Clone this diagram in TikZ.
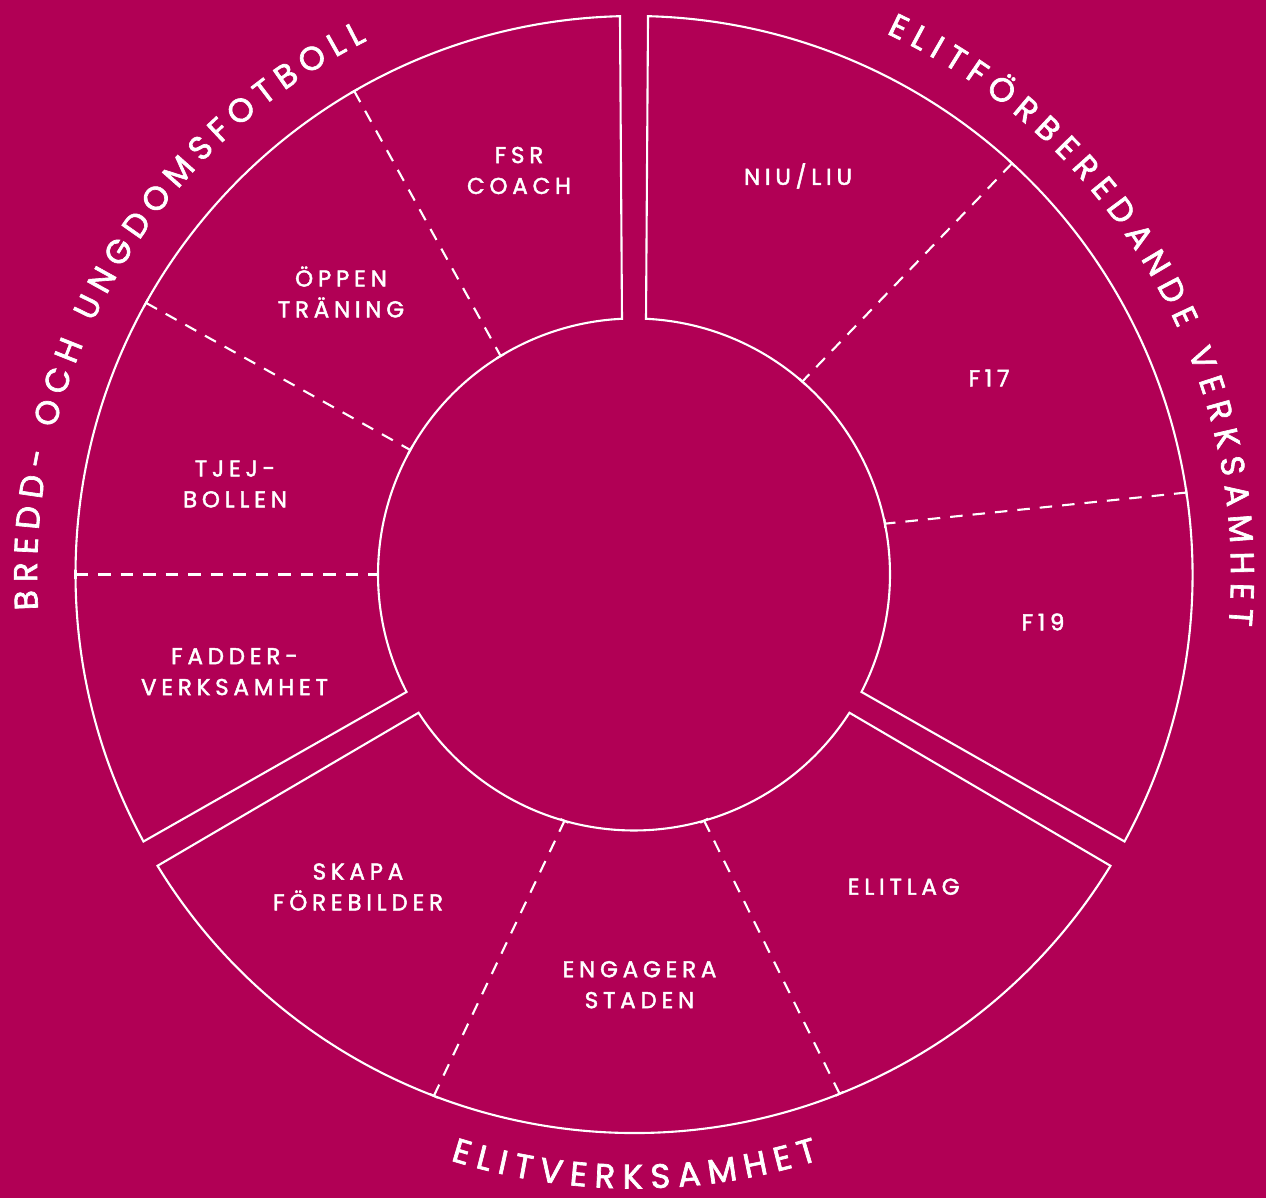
\documentclass[tikz,border=0pt]{standalone}
\usepackage{fontspec}
\newfontfamily\lblfont[LetterSpace=21,FakeBold=2]{Poppins}
\newfontfamily\ttlfont[FakeBold=2]{Poppins}
\usetikzlibrary{decorations.text,calc}
\definecolor{bg}{RGB}{177,0,85}
\begin{document}
\begin{tikzpicture}[x=1bp,y=1bp,
  seg/.style={draw=white,line width=2.1bp,line join=miter},
  divider/.style={draw=white,line width=2.1bp,dash pattern=on 12.5bp off 10bp},
  tickmark/.style={draw=white,line width=2.1bp},
  lbl/.style={text=white,align=center,inner sep=0pt,font={\lblfont\fontsize{23}{31}\selectfont}},
]
\fill[bg] (0,0) rectangle (1266,1198);
\useasboundingbox (0,0) rectangle (1266,1198);
\coordinate (C) at (634,623.5);

% three ring sectors
\draw[seg,shift={(C)}] (91.44:558.5) arc[start angle=91.44,end angle=208.56,radius=558.5]
  -- (207.31:256) arc[start angle=207.31,end angle=92.69,radius=256] -- cycle;
\draw[seg,shift={(C)}] (-28.56:558.5) arc[start angle=-28.56,end angle=88.56,radius=558.5]
  -- (87.31:256) arc[start angle=87.31,end angle=-27.31,radius=256] -- cycle;
\draw[seg,shift={(C)}] (211.44:558.5) arc[start angle=211.44,end angle=328.56,radius=558.5]
  -- (327.31:256) arc[start angle=327.31,end angle=212.69,radius=256] -- cycle;

% divider end points
\coordinate (Ao) at ($(C)+(120.06:558.5)$); \coordinate (Ai) at ($(C)+(121.4:256)$);
\coordinate (Bo) at ($(C)+(150.9:558.5)$);  \coordinate (Bi) at ($(C)+(150.9:256)$);
\coordinate (Co) at ($(C)+(180:558.5)$);    \coordinate (Ci) at ($(C)+(180:256)$);
\coordinate (Do) at ($(C)+(47.4:558.5)$);   \coordinate (Di) at ($(C)+(48.9:256)$);
\coordinate (Eo) at ($(C)+(8.44:558.5)$);   \coordinate (Ei) at ($(C)+(11.45:256)$);
\coordinate (Fo) at ($(C)+(249.0:558.5)$);  \coordinate (Fi) at ($(C)+(254.24:256)$);
\coordinate (Go) at ($(C)+(291.6:558.5)$);  \coordinate (Gi) at ($(C)+(285.9:256)$);

\foreach \p in {A,B,C,D,E,F,G}{
  \draw[divider] (\p o) -- (\p i);
  \draw[tickmark] ($(\p o)!4.5bp!90:(\p i)$) -- ($(\p o)!4.5bp!-90:(\p i)$);
  \draw[tickmark] ($(\p i)!4.5bp!90:(\p o)$) -- ($(\p i)!4.5bp!-90:(\p o)$);
}

% labels
\node[lbl] (fsr) at (519,1027.5) {FSR\\COACH};
\node[lbl] (oppen) at (341,906) {ÖPPEN\\TRÄNING};
\node[lbl] (tjej) at (235,714) {TJEJ-\\BOLLEN};
\node[lbl] (fadder) at (234.5,526.3) {FADDER-\\VERKSAMHET};
\node[lbl] (niu) at (798,1022) {NIU/LIU};
\node[lbl] (f17) at (989,820) {F17};
\node[lbl] (f19) at (1043,576) {F19};
\node[lbl] (elitlag) at (903.7,311.3) {ELITLAG};
\node[lbl] (skapa) at (358,311) {SKAPA\\FÖREBILDER};
\node[lbl] (engagera) at (639.5,213.3) {ENGAGERA\\STADEN};

% curved titles
\path[shift={(C)},decorate,decoration={text along path,text align=fit to path,
  text={|\ttlfont\fontsize{33}{33}\selectfont\color{white}|BREDD- OCH UNGDOMSFOTBOLL}}]
  (183.4:597) arc[start angle=183.4,end angle=116.6,radius=597];
\path[shift={(C)},decorate,decoration={text along path,text align=fit to path,
  text={|\ttlfont\fontsize{33}{33}\selectfont\color{white}|ELITFÖRBEREDANDE VERKSAMHET}}]
  (65.0:597) arc[start angle=65.0,end angle=-4.85,radius=597];
\path[shift={(C)},decorate,decoration={text along path,text align=fit to path,
  text={|\ttlfont\fontsize{34}{34}\selectfont\color{white}|ELITVERKSAMHET}}]
  (252.6:614) arc[start angle=252.6,end angle=287.5,radius=614];
\end{tikzpicture}
\end{document}
